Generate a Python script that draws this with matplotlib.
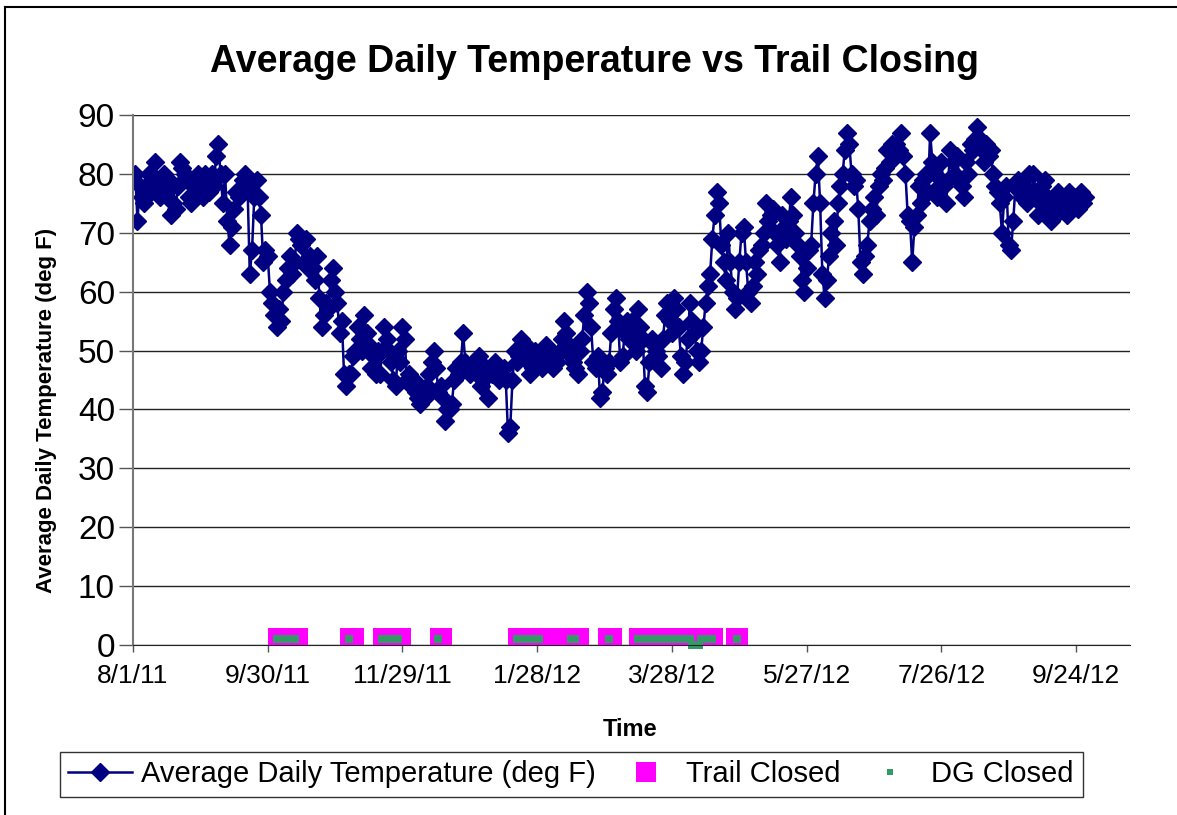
import numpy as np
import pandas as pd
import matplotlib
matplotlib.use("Agg")
import matplotlib.pyplot as plt
from matplotlib.lines import Line2D

plt.rcParams['font.family'] = ['Liberation Sans', 'DejaVu Sans']

#=================== data ===================
start = "2011-08-01"
# average daily temperature (deg F), one value per day from 8/1/11
temps = [79, 80, 72, 78, 76, 75, 78, 80, 77, 78, 82, 79, 76,
         78, 80, 77, 79, 73, 75, 74, 78, 82, 81, 80, 79, 76, 75, 78, 77, 80,
         78, 76, 80, 79, 77, 80, 78, 83, 85,
         80, 75, 80, 72, 68, 71, 74, 77, 76,
         77, 79, 80, 78, 63, 67, 76, 79, 76, 73, 65, 67, 66,
         60, 58, 56, 54, 57, 55, 60, 62, 64, 66, 63, 65, 70,
         69, 68, 65, 69, 64, 66, 64, 62, 66, 59, 54, 56, 58, 57,
         62, 64, 60, 58, 53, 55, 46, 44, 46,
         46, 49, 50, 54, 52, 50, 56, 53, 51, 47, 49, 46, 50,
         46, 50, 54, 52, 50, 48, 45, 44, 50, 48, 54, 52, 45,
         46, 44, 45, 43, 42, 41, 43, 42, 44, 46, 48, 50, 47, 43,
         44, 42, 38, 40, 40, 41, 45, 47, 46, 48, 53, 48, 47,
         46, 47, 48, 46, 49, 44, 45, 47, 42, 47, 46, 48, 47, 45, 46, 47, 45, 36,
         37, 45, 50, 48, 49, 52, 50, 51, 48, 46, 47, 50, 49, 48, 47, 49, 51, 48, 50, 47, 49, 48,
         50, 52, 55, 53, 51, 49, 48, 47, 46, 50, 52, 56, 60, 58, 54, 48, 47, 49,
         42, 43, 47, 46, 48, 53, 57, 59, 55, 48, 49, 53, 55,
         52, 55, 54, 50, 57, 54, 52, 44, 43, 48, 52, 51, 50, 49,
         47, 52, 56, 58, 55, 53, 59, 57, 54, 49, 46, 48, 52, 58, 55, 53, 50,
         48, 50, 54, 58, 61, 63, 69, 73, 77, 75, 68, 65, 62, 70,
         65, 60, 57, 59, 65, 70, 71, 65, 60, 58, 61, 65, 63, 67,
         68, 70, 75, 72, 73, 74, 70, 68, 65, 73, 71, 69, 72, 76, 73, 70, 68,
         66, 62, 60, 64, 67, 68, 75, 80, 83, 75, 63, 59, 62,
         66, 70, 72, 68, 75, 78, 80, 84, 87, 85, 80, 78, 79, 74, 65, 63, 66, 68,
         72, 74, 76, 73, 78, 80, 79, 81, 84, 82, 85, 83, 85, 84,
         87, 83, 80, 73, 72, 65, 71, 73, 78, 75, 79, 80, 77,
         87, 82, 80, 76, 78, 82, 78, 75, 79, 84, 82, 80, 83, 79,
         78, 76, 82, 80, 85, 84, 86, 88, 86, 84, 82, 85, 83,
         84, 80, 78, 77, 75, 70, 76, 78, 68, 67, 72, 78, 79, 77, 76, 78, 75, 80,
         76, 80, 77, 73, 75, 78, 79, 76, 74, 72, 75, 73, 77, 74, 75, 76, 73, 77, 76, 75, 76, 74, 77, 75, 76]

# closures, as (first day, last day) offsets from 8/1/11
trail_closed = [(65, 73), (97, 98), (112, 119), (137, 137), (172, 198),
                (212, 213), (226, 258), (269, 269)]
dg_closed = [(64, 72), (96, 96), (111, 118), (136, 136), (171, 181),
             (195, 197), (212, 212), (225, 248), (253, 258), (269, 269)]
dg_zero = [(249, 252)]

#=================== prep ===================
dates = pd.date_range(start, periods=len(temps), freq="D")
t0 = pd.Timestamp(start)

def spans_to_dates(spans):
    out = []
    for a, b in spans:
        for d in range(a, b + 1):
            out.append(t0 + pd.Timedelta(days=d))
    return out

trail_dates = spans_to_dates(trail_closed)
dg_dates = spans_to_dates(dg_closed)
dg0_dates = spans_to_dates(dg_zero)

#=================== plot ===================
fig = plt.figure(figsize=(11.77, 8.15), dpi=100)
ax = fig.add_axes([133/1177, 1-645/815, (1130-133)/1177, (645-115)/815])

ax.plot(dates, temps, color='#000080', marker='D', markersize=9.5, linewidth=1.8)
ax.plot(trail_dates, [1]*len(trail_dates), linestyle='none', marker='s',
        markersize=16, markeredgewidth=0, color='#FF00FF')
ax.plot(dg_dates, [1]*len(dg_dates), linestyle='none', marker='s',
        markersize=6, markeredgewidth=0, color='#339966')
ax.plot(dg0_dates, [0]*len(dg0_dates), linestyle='none', marker='s',
        markersize=6, markeredgewidth=0, color='#339966', clip_on=False)

ax.set_ylim(0, 90)
ax.set_yticks(range(0, 91, 10))
ax.set_xlim(t0, t0 + pd.Timedelta(days=444))
ticks = [t0 + pd.Timedelta(days=60*i) for i in range(8)]
ax.set_xticks(ticks)
ax.set_xticklabels([f"{d.month}/{d.day}/{d.year % 100:02d}" for d in ticks], fontsize=19)
ax.tick_params(axis='y', labelsize=24, length=10, width=1, color='#555555', pad=3)
ax.tick_params(axis='x', length=5, width=1, color='#555555', pad=9)
ax.yaxis.grid(True, color='#222222', linewidth=1)
ax.set_axisbelow(True)
for s in ['top', 'right']:
    ax.spines[s].set_visible(False)
ax.spines['left'].set_color('#777777')
ax.spines['left'].set_linewidth(1.5)
ax.spines['bottom'].set_color('#222222')

fig.text(595/1177, 1-62/815, 'Average Daily Temperature vs Trail Closing',
         ha='center', va='center', fontsize=27, fontweight='bold')
fig.text(47/1177, 1-410/815, 'Average Daily Temperature (deg F)', rotation=90,
         ha='center', va='center', fontsize=16, fontweight='bold')
fig.text(630/1177, 1-730/815, 'Time', ha='center', va='center',
         fontsize=17, fontweight='bold')

handles = [Line2D([], [], color='#000080', marker='D', markersize=9.5, linewidth=1.8),
           Line2D([], [], color='#FF00FF', marker='s', markersize=15, markeredgewidth=0, linestyle='none'),
           Line2D([], [], color='#339966', marker='s', markersize=5, markeredgewidth=0, linestyle='none')]
leg = fig.legend(handles, ['Average Daily Temperature (deg F)', 'Trail Closed', 'DG Closed'],
                 loc='center', bbox_to_anchor=(571/1177, 1-774.5/815), ncol=3,
                 fontsize=21, frameon=True, fancybox=False, edgecolor='black',
                 handlelength=2.2, columnspacing=0.6, handletextpad=0.3, borderpad=0.3,
                 borderaxespad=0)
leg.get_frame().set_linewidth(1.0)

# outer chart border: only the left and top edges are in view
fig.add_artist(Line2D([5/1177, 5/1177], [0, 1-7/815], transform=fig.transFigure,
                      color='black', linewidth=1.5))
fig.add_artist(Line2D([5/1177, 1], [1-7/815, 1-7/815], transform=fig.transFigure,
                      color='black', linewidth=1.5))

plt.savefig('out.png', dpi=100)
